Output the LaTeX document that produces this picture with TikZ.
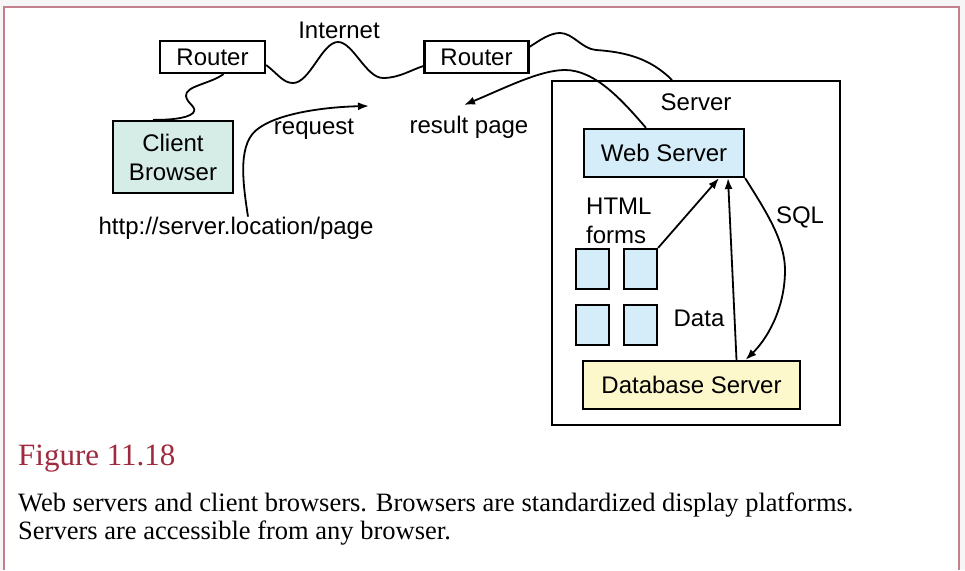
\documentclass[tikz,border=0pt]{standalone}
\usepackage{fontspec}
\setmainfont{Liberation Serif}
\newfontfamily\diagfont{Liberation Sans}
\usetikzlibrary{arrows.meta}
\definecolor{frameline}{RGB}{196,128,140}
\definecolor{figred}{RGB}{158,42,62}
\definecolor{clientfill}{RGB}{214,236,230}
\definecolor{webfill}{RGB}{212,237,249}
\definecolor{dbfill}{RGB}{253,248,204}
\tikzset{
  box/.style={draw, line width=2.2pt, inner sep=0pt, align=center,
    font=\diagfont\fontsize{24}{29}\selectfont},
  lbl/.style={inner sep=0pt, align=center,
    font=\diagfont\fontsize{24}{29}\selectfont},
  wire/.style={line width=1.8pt},
  arr/.style={wire, -{Latex[length=11pt,width=8pt]}},
  captxt/.style={inner sep=0pt, anchor=base west,
    font=\fontsize{26.5}{28}\selectfont},
}
\begin{document}
\begin{tikzpicture}[x=1pt,y=-1pt]
\useasboundingbox (0,0) rectangle (965,570);
% page background and frame
\fill[gray!7] (0,0) rectangle (965,570);
\fill[white] (4,8) rectangle (959,570);
\draw[frameline, line width=2pt] (4,570) -- (4,7) -- (959,7) -- (959,570);

% boxes
\node[box, minimum width=105, minimum height=32] (r1) at (212.5,57) {Router};
\node[box, minimum width=104, minimum height=32] (r2) at (476.5,57) {Router};
\node[box, fill=clientfill, minimum width=120, minimum height=72] (client) at (173,157) {Client\\Browser};
\node[draw, line width=2pt, minimum width=288, minimum height=344, inner sep=0pt] (server) at (696,253) {};
\node[box, fill=webfill, minimum width=160, minimum height=48] (web) at (664,153) {Web Server};
\node[box, fill=dbfill, minimum width=217, minimum height=48] (db) at (691.5,385) {Database Server};
\node[box, fill=webfill, minimum width=33, minimum height=40] (f1) at (592.5,269) {};
\node[box, fill=webfill, minimum width=33, minimum height=40] (f2) at (640.5,269) {};
\node[box, fill=webfill, minimum width=33, minimum height=40] (f3) at (592.5,325) {};
\node[box, fill=webfill, minimum width=33, minimum height=40] (f4) at (640.5,325) {};

% labels
\node[lbl] (inet) at (339,30) {Internet};
\node[lbl] (srvlbl) at (696,102) {Server};
\node[lbl, align=left, anchor=west] (forms) at (586,221) {HTML\\forms};
\node[lbl] (data) at (699,318) {Data};
\node[lbl] (sql) at (800,217) {SQL};
\node[lbl] (req) at (314,129) {request};
\node[lbl] (res) at (469,127) {result page};
\node[lbl] (url) at (236,228) {http://server.location/page};

% network links
\draw[wire] ([xshift=11pt]r1.south) .. controls (210,84) and (185,86) .. (186,96)
  .. controls (187,104) and (198,107) .. (193,113)
  .. controls (187,119) and (166,120) .. ([xshift=-20pt]client.north);
\draw[wire] ([yshift=-8pt]r1.east) .. controls (278,74) and (283,83) .. (293,83)
  .. controls (310,83) and (322,42) .. (338,42)
  .. controls (353,42) and (366,78) .. (383,78)
  .. controls (399,78) and (411,70) .. ([yshift=-9pt]r2.west);
\draw[wire] ([yshift=-7pt]r2.north east) .. controls (540,40) and (550,33) .. (560,33)
  .. controls (573,33) and (582,49) .. (596,50)
  .. controls (625,52) and (650,58) .. ([xshift=-24pt]server.north);

% request / response
\draw[arr] ([xshift=12pt]url.north) .. controls (242,178) and (238,142) .. (259,128)
  .. controls (280,113) and (325,107) .. (369,106);
\draw[arr] ([xshift=-18pt]web.north) .. controls (622,100) and (595,70) .. (565,70)
  .. controls (540,70) and (505,88) .. (464,105);

% inside the server
\draw[arr] (f2.north east) -- ([xshift=55pt]web.south);
\draw[arr] ([xshift=45pt]db.north) -- ([xshift=64pt]web.south);
\draw[arr] (web.south east) .. controls (765,210) and (785,240) .. (785,270)
  .. controls (785,310) and (766,340) .. ([xshift=54pt]db.north);

% caption
\node[captxt, text=figred, font=\fontsize{31}{36}\selectfont] (fig) at (18,465) {Figure 11.18};
\node[captxt] (cap1) at (18,511) {Web servers and client browsers. Browsers are standardized display platforms.};
\node[captxt] (cap2) at (18,539) {Servers are accessible from any browser.};
\end{tikzpicture}
\end{document}
